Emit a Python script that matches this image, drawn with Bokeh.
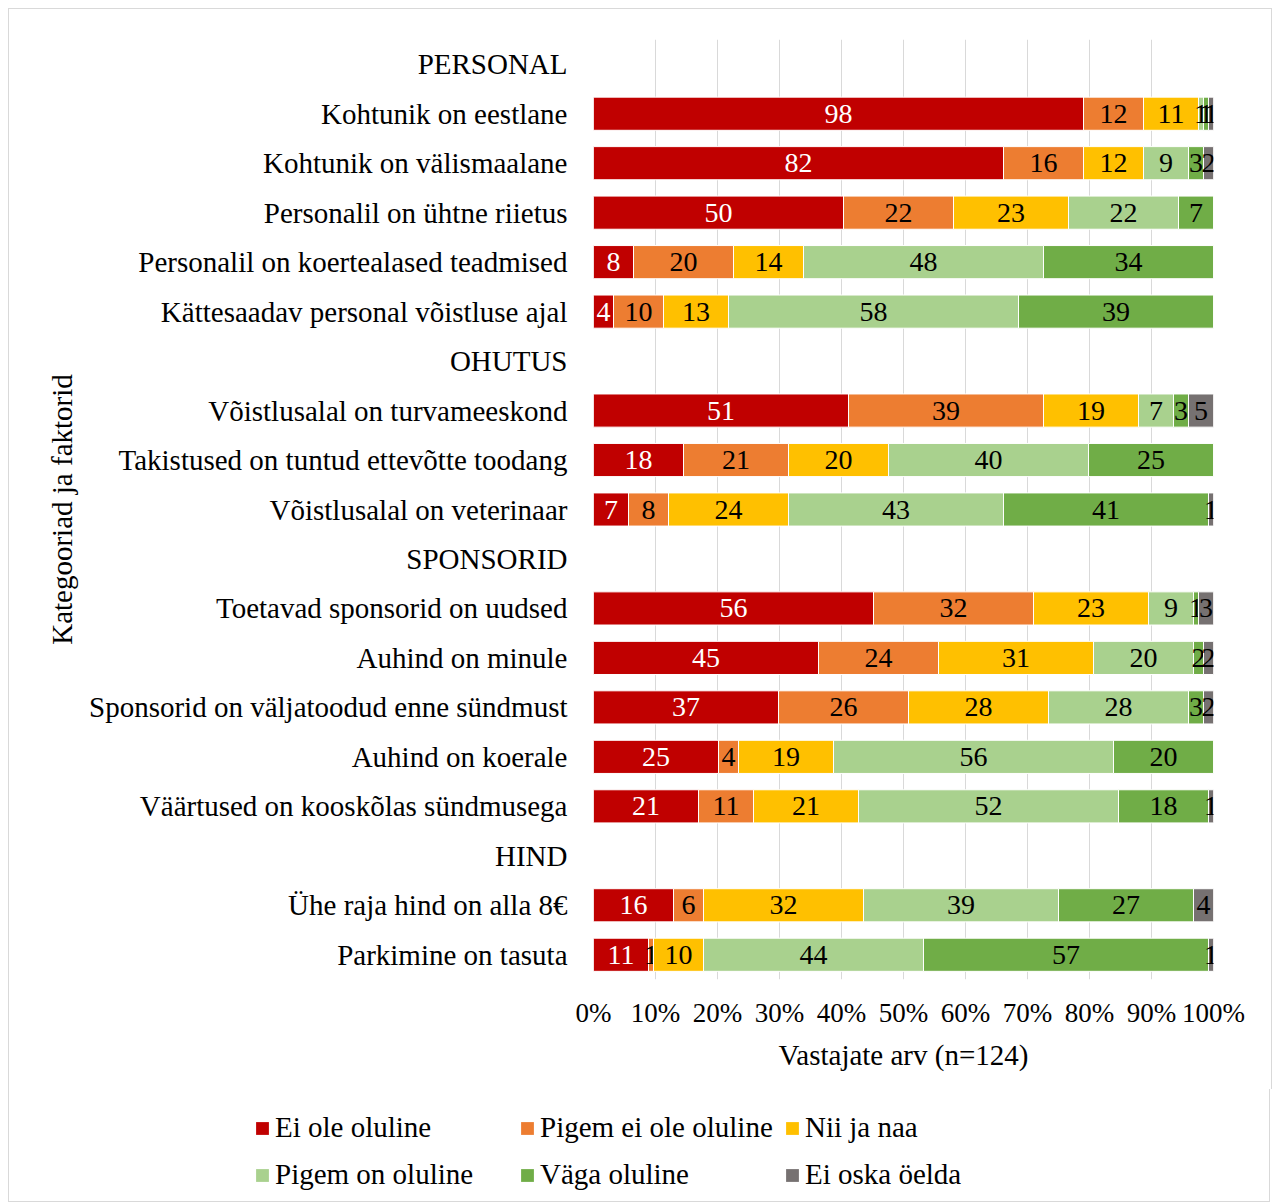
from bokeh.plotting import figure
from bokeh.models import (ColumnDataSource, FactorRange, Legend, LegendItem, FixedTicker,
                          NumeralTickFormatter, Range1d)
from bokeh.core.properties import value
from bokeh.embed import file_html
from bokeh.resources import INLINE

categories = ["PERSONAL", "Kohtunik on eestlane", "Kohtunik on välismaalane",
              "Personalil on ühtne riietus", "Personalil on koertealased teadmised",
              "Kättesaadav personal võistluse ajal", "OHUTUS",
              "Võistlusalal on turvameeskond", "Takistused on tuntud ettevõtte toodang",
              "Võistlusalal on veterinaar", "SPONSORID", "Toetavad sponsorid on uudsed",
              "Auhind on minule", "Sponsorid on väljatoodud enne sündmust",
              "Auhind on koerale", "Väärtused on kooskõlas sündmusega", "HIND",
              "Ühe raja hind on alla 8€", "Parkimine on tasuta"]

ei_ole = [0, 98, 82, 50, 8, 4, 0, 51, 18, 7, 0, 56, 45, 37, 25, 21, 0, 16, 11]
pigem_ei = [0, 12, 16, 22, 20, 10, 0, 39, 21, 8, 0, 32, 24, 26, 4, 11, 0, 6, 1]
nii_ja_naa = [0, 11, 12, 23, 14, 13, 0, 19, 20, 24, 0, 23, 31, 28, 19, 21, 0, 32, 10]
pigem_on = [0, 1, 9, 22, 48, 58, 0, 7, 40, 43, 0, 9, 20, 28, 56, 52, 0, 39, 44]
vaga = [0, 1, 3, 7, 34, 39, 0, 3, 25, 41, 0, 1, 2, 3, 20, 18, 0, 27, 57]
ei_oska = [0, 1, 2, 0, 0, 0, 0, 5, 0, 1, 0, 3, 2, 2, 0, 1, 0, 4, 1]

series_names = ["Ei ole oluline", "Pigem ei ole oluline", "Nii ja naa",
                "Pigem on oluline", "Väga oluline", "Ei oska öelda"]
series = [ei_ole, pigem_ei, nii_ja_naa, pigem_on, vaga, ei_oska]
colors = ["#C00000", "#ED7D31", "#FFC000", "#A9D18E", "#70AD47", "#767171"]
text_colors = ["white", "black", "black", "black", "black", "black"]

FONT = "Liberation Serif"
BORDER = "1px solid #D9D9D9"

p = figure(frame_width=620, frame_height=940, output_backend="svg", toolbar_location=None,
           y_range=FactorRange(*reversed(categories), range_padding=0),
           x_range=Range1d(0, 1),
           min_border_left=584, min_border_right=58, min_border_top=30, min_border_bottom=110)
p.outline_line_color = None
p.background_fill_color = "white"
p.styles = {"margin-left": "8px", "margin-top": "8px", "border-left": BORDER,
            "border-right": BORDER, "border-top": BORDER}

totals = [sum(s[i] for s in series) for i in range(len(categories))]
left = [0.0] * len(categories)
for name, vals, col, tcol in zip(series_names, series, colors, text_colors):
    fr = [v / t if t else 0 for v, t in zip(vals, totals)]
    lefts = list(left)
    rights = [l + f for l, f in zip(lefts, fr)]
    src = ColumnDataSource(dict(cat=categories, left=lefts, right=rights))
    p.hbar(y="cat", left="left", right="right", height=0.67, source=src,
           fill_color=col, line_color="white", line_width=1)
    idx = [i for i, v in enumerate(vals) if v > 0]
    tsrc = ColumnDataSource(dict(cat=[categories[i] for i in idx],
                                 x=[(lefts[i] + rights[i]) / 2 for i in idx],
                                 lbl=[str(vals[i]) for i in idx]))
    p.text(x="x", y="cat", text="lbl", source=tsrc, text_align="center",
           text_baseline="middle", text_font=value(FONT), text_font_size="28px",
           text_color=tcol)
    left = rights

p.xgrid.ticker = FixedTicker(ticks=[i / 10 for i in range(11)])
p.xgrid.grid_line_color = "#D9D9D9"
p.ygrid.grid_line_color = None

xa = p.xaxis[0]
xa.ticker = FixedTicker(ticks=[i / 10 for i in range(11)])
xa.formatter = NumeralTickFormatter(format="0%")
xa.axis_line_color = None
xa.major_tick_line_color = None
xa.major_tick_out = 0
xa.major_tick_in = 0
xa.minor_tick_line_color = None
xa.major_label_text_font = FONT
xa.major_label_text_font_size = "27px"
xa.major_label_text_color = "black"
xa.major_label_standoff = 18
xa.axis_label = "Vastajate arv (n=124)"
xa.axis_label_text_font = FONT
xa.axis_label_text_font_size = "29px"
xa.axis_label_text_font_style = "normal"
xa.axis_label_text_color = "black"
xa.axis_label_standoff = 8

ya = p.yaxis[0]
ya.axis_line_color = None
ya.major_tick_line_color = None
ya.major_tick_out = 0
ya.major_tick_in = 0
ya.minor_tick_line_color = None
ya.major_label_text_font = FONT
ya.major_label_text_font_size = "29px"
ya.major_label_text_color = "black"
ya.major_label_standoff = 26
ya.axis_label = "Kategooriad ja faktorid"
ya.axis_label_text_font = FONT
ya.axis_label_text_font_size = "29px"
ya.axis_label_text_font_style = "normal"
ya.axis_label_text_color = "black"
ya.axis_label_standoff = 8

# legend figure (separate root, directly below the chart)
lg = figure(width=1262, height=113, output_backend="svg", toolbar_location=None,
            x_range=Range1d(0, 1), y_range=Range1d(0, 1),
            x_axis_location=None, y_axis_location=None,
            min_border=0, min_border_left=0, min_border_right=0,
            min_border_top=0, min_border_bottom=0)
lg.grid.visible = False
lg.outline_line_color = None
lg.styles = {"margin-left": "8px", "border-left": BORDER, "border-right": BORDER,
             "border-bottom": BORDER}
items = []
for name, col in zip(series_names, colors):
    # zero-size proxy glyph, only used to draw the legend swatch
    proxy = ColumnDataSource(dict(l=[0], r=[0], b=[0], t=[0]))
    r = lg.quad(left="l", right="r", bottom="b", top="t", source=proxy,
                fill_color=col, line_color=None)
    items.append(LegendItem(label=name, renderers=[r]))
legend = Legend(items=items, orientation="horizontal", ncols=3,
                label_text_font=FONT, label_text_font_size="29px", label_text_color="black",
                glyph_width=16, glyph_height=16, label_standoff=5, label_width=236,
                label_height=39, spacing=8, padding=0, margin=0,
                border_line_color=None, background_fill_color=None,
                location=(245, 8))
lg.add_layout(legend, "center")

open("out.html", "w").write(file_html([p, lg], INLINE))
